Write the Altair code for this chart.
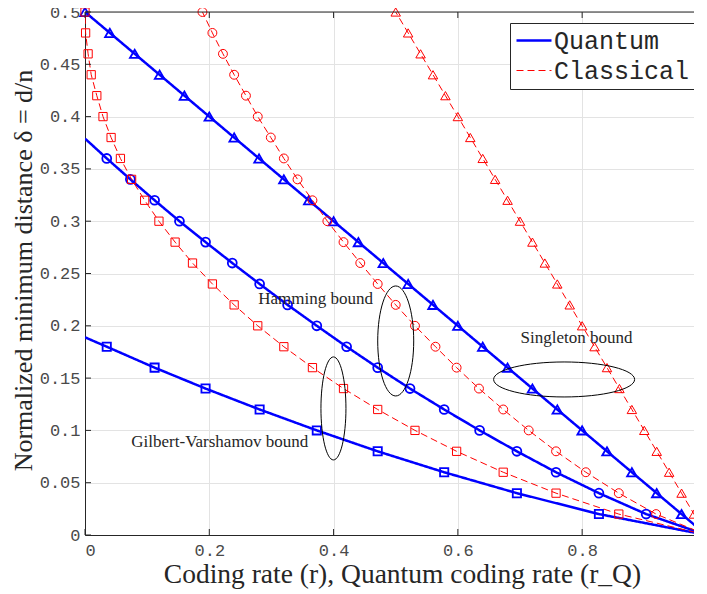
import altair as alt
import pandas as pd

# ---------------- data ----------------
DELTA = [0.02, 0.04, 0.06, 0.08, 0.10, 0.12, 0.14, 0.16, 0.18, 0.20, 0.22, 0.24, 0.26,
         0.28, 0.30, 0.32, 0.34, 0.36, 0.38, 0.40, 0.42, 0.44, 0.46, 0.48, 0.50]

R_CL_SINGLETON = [0.98, 0.96, 0.94, 0.92, 0.90, 0.88, 0.86, 0.84, 0.82, 0.80, 0.78, 0.76, 0.74,
                  0.72, 0.70, 0.68, 0.66, 0.64, 0.62, 0.60, 0.58, 0.56, 0.54, 0.52, 0.50]
R_CL_HAMMING = [0.919, 0.859, 0.806, 0.758, 0.714, 0.673, 0.634, 0.598, 0.564, 0.531, 0.500, 0.471, 0.443,
                0.416, 0.390, 0.366, 0.342, 0.320, 0.299, 0.278, 0.259, 0.240, 0.222, 0.205, 0.189]
R_CL_GV = [0.859, 0.758, 0.673, 0.598, 0.531, 0.471, 0.416, 0.366, 0.320, 0.278, 0.240, 0.205, 0.173,
           0.145, 0.119, 0.096, 0.075, 0.057, 0.042, 0.029, 0.019, 0.010, 0.005, 0.001, 0.000]

R_Q_SINGLETON = [0.96, 0.92, 0.88, 0.84, 0.80, 0.76, 0.72, 0.68, 0.64, 0.60, 0.56, 0.52, 0.48,
                 0.44, 0.40, 0.36, 0.32, 0.28, 0.24, 0.20, 0.16, 0.12, 0.08, 0.04, 0.00]
DELTA_Q_HAMMING = [0.02, 0.04, 0.06, 0.08, 0.10, 0.12, 0.14, 0.16, 0.18,
                   0.20, 0.22, 0.24, 0.26, 0.28, 0.30, 0.32, 0.34, 0.36]
R_Q_HAMMING = [0.903, 0.827, 0.758, 0.695, 0.635, 0.578, 0.523, 0.471, 0.421,
               0.373, 0.326, 0.281, 0.237, 0.194, 0.152, 0.112, 0.073, 0.035]
DELTA_Q_GV = [0.02, 0.04, 0.06, 0.08, 0.10, 0.12, 0.14, 0.16, 0.18]
R_Q_GV = [0.827, 0.695, 0.578, 0.471, 0.373, 0.281, 0.194, 0.112, 0.035]

# curve ends that carry no marker (r, delta)
Q_HAMMING_START = [0.0, 0.379]
Q_GV_START = [0.0, 0.189]
CURVE_END = [1.0, 0.0]

TYPES = ["Quantum", "Classical"]
BOUNDS = ["Singleton", "Hamming", "GV"]

X_TICKS = [0, 0.2, 0.4, 0.6, 0.8]
Y_TICKS = [0, 0.05, 0.1, 0.15, 0.2, 0.25, 0.3, 0.35, 0.4, 0.45, 0.5]

ANN_TEXT = ["Hamming bound", "Singleton bound", "Gilbert-Varshamov bound"]
ANN_R = [0.371, 0.791, 0.217]
ANN_D = [0.2206, 0.1833, 0.0844]

ELL_R = [0.3998, 0.500, 0.771]
ELL_D = [0.121, 0.1855, 0.1487]

X_TITLE = "Coding rate (r), Quantum coding rate (r_Q)"
Y_TITLE = "Normalized minimum distance δ = d/n"

# ---------------- styles ----------------
BLUE = "#0000ff"
RED = "#ff0000"
INK = "#262626"
SERIF = "Liberation Serif"
MONO = "Liberation Mono"
ELL_PX = [(25, 103), (36, 110), (141, 35)]  # ellipse width, height in px
W, H = 609, 523


def ellipse_path(w, h):
    m = float(max(w, h))
    a, b, k = w / m, h / m, 0.5523
    f = lambda v: f"{v:.4f}"
    p = (f"M{f(a)},0 C{f(a)},{f(k*b)} {f(k*a)},{f(b)} 0,{f(b)} "
         f"C{f(-k*a)},{f(b)} {f(-a)},{f(k*b)} {f(-a)},0 "
         f"C{f(-a)},{f(-k*b)} {f(-k*a)},{f(-b)} 0,{f(-b)} "
         f"C{f(k*a)},{f(-b)} {f(a)},{f(-k*b)} {f(a)},0 Z")
    return p, m * m


def frame(r, d, bound, typ):
    return pd.DataFrame({"r": r, "delta": d, "bound": bound, "type": typ})


mk_q = pd.concat([
    frame(R_Q_SINGLETON, DELTA, "Singleton", "Quantum"),
    frame(R_Q_HAMMING, DELTA_Q_HAMMING, "Hamming", "Quantum"),
    frame(R_Q_GV, DELTA_Q_GV, "GV", "Quantum"),
], ignore_index=True)
mk_c = pd.concat([
    frame(R_CL_SINGLETON, DELTA, "Singleton", "Classical"),
    frame(R_CL_HAMMING, DELTA, "Hamming", "Classical"),
    frame(R_CL_GV, DELTA, "GV", "Classical"),
], ignore_index=True)

ends_q = pd.DataFrame({
    "r": [Q_HAMMING_START[0], Q_GV_START[0], CURVE_END[0], CURVE_END[0], CURVE_END[0]],
    "delta": [Q_HAMMING_START[1], Q_GV_START[1], CURVE_END[1], CURVE_END[1], CURVE_END[1]],
    "bound": ["Hamming", "GV", "Singleton", "Hamming", "GV"],
    "type": "Quantum",
})
ends_c = pd.DataFrame({
    "r": [CURVE_END[0]] * 3, "delta": [CURVE_END[1]] * 3,
    "bound": ["Singleton", "Hamming", "GV"], "type": "Classical",
})
ln_q = pd.concat([mk_q, ends_q], ignore_index=True)
ln_c = pd.concat([mk_c, ends_c], ignore_index=True)

xs = alt.Scale(domain=[0, 0.98], nice=False, zero=False)
ys = alt.Scale(domain=[0, 0.5], nice=False, zero=False)

xax = alt.Axis(values=X_TICKS, format="~g", title=X_TITLE, grid=True, ticks=False, tickSize=0,
               labelPadding=7, titleX=317, titleY=47, titleAlign="center",
               titleBaseline="alphabetic", titleAnchor="start",
               titleFont=SERIF, titleFontSize=27.5, labelFont=MONO)
yax = alt.Axis(values=Y_TICKS, format="~g", title=Y_TITLE, grid=True, ticks=False, tickSize=0,
               labelPadding=5, titleX=-54, titleY=258, titleAngle=270, titleAlign="center",
               titleBaseline="alphabetic", titleAnchor="start",
               titleFont=SERIF, titleFontSize=26, labelFont=MONO)

leg = alt.Legend(title=None, orient="none", legendX=425, legendY=11, symbolType="stroke",
                 symbolSize=1225, labelFont=MONO, labelFontSize=25, clipHeight=25,
                 labelColor=INK, strokeColor=INK, fillColor="white", padding=5,
                 rowPadding=4, labelOffset=1, cornerRadius=0)

cs = alt.Scale(domain=TYPES, range=[BLUE, RED])
ds = alt.Scale(domain=TYPES, range=[[1, 0], [7, 4]])
ws = alt.Scale(domain=TYPES, range=[2.5, 1.0])


def line_layer(df):
    return alt.Chart(df).mark_line(clip=True).encode(
        x=alt.X("r:Q", scale=xs, axis=xax),
        y=alt.Y("delta:Q", scale=ys, axis=yax),
        detail="bound:N",
        order=alt.Order("delta:Q"),
        color=alt.Color("type:N", scale=cs, legend=leg),
        strokeDash=alt.StrokeDash("type:N", scale=ds, legend=leg),
        strokeWidth=alt.StrokeWidth("type:N", scale=ws, legend=leg),
    )


def point_layer(df, colour, sw):
    return alt.Chart(df).mark_point(filled=False, color=colour, strokeWidth=sw, opacity=1).encode(
        x=alt.X("r:Q", scale=xs, axis=xax),
        y=alt.Y("delta:Q", scale=ys, axis=yax),
        shape=alt.Shape("bound:N", scale=alt.Scale(domain=BOUNDS,
                        range=["triangle-up", "circle", "square"]), legend=None),
        size=alt.Size("bound:N", scale=alt.Scale(domain=BOUNDS, range=[90, 68, 42]), legend=None),
    )


ell_layers = []
for i in range(3):
    path, sz = ellipse_path(*ELL_PX[i])
    ell_layers.append(
        alt.Chart(pd.DataFrame({"r": [ELL_R[i]], "delta": [ELL_D[i]]}))
        .mark_point(shape=path, size=sz, filled=False, color="black", strokeWidth=1, opacity=1)
        .encode(x=alt.X("r:Q", scale=xs, axis=xax), y=alt.Y("delta:Q", scale=ys, axis=yax))
    )

ann = alt.Chart(pd.DataFrame({"label": ANN_TEXT, "r": ANN_R, "delta": ANN_D})).mark_text(
    font=SERIF, fontSize=17, color=INK, align="center", baseline="alphabetic"
).encode(x=alt.X("r:Q", scale=xs, axis=xax), y=alt.Y("delta:Q", scale=ys, axis=yax), text="label:N")

xt = pd.DataFrame({"t": X_TICKS})
yt = pd.DataFrame({"t": Y_TICKS})
tick_bottom = alt.Chart(xt).mark_rule(color=INK, strokeWidth=1, y2Offset=-6).encode(
    x=alt.X("t:Q", scale=xs, axis=xax), y=alt.datum(0), y2=alt.datum(0))
tick_top = alt.Chart(xt).mark_rule(color=INK, strokeWidth=1, y2Offset=6).encode(
    x=alt.X("t:Q", scale=xs, axis=xax), y=alt.datum(0.5), y2=alt.datum(0.5))
tick_left = alt.Chart(yt).mark_rule(color=INK, strokeWidth=1, x2Offset=6).encode(
    y=alt.Y("t:Q", scale=ys, axis=yax), x=alt.datum(0), x2=alt.datum(0))
border_top = alt.Chart(pd.DataFrame({"t": [0.5]})).mark_rule(color=INK, strokeWidth=1).encode(
    y=alt.Y("t:Q", scale=ys, axis=yax))

chart = alt.layer(
    line_layer(ln_q), point_layer(mk_q, BLUE, 1.8),
    line_layer(ln_c), point_layer(mk_c, RED, 1),
    *ell_layers, ann, tick_bottom, tick_top, tick_left, border_top,
).properties(
    width=W, height=H,
    padding={"left": 77, "top": 4, "right": 0, "bottom": 56},
    autosize=alt.AutoSizeParams(type="none"),
).configure_view(stroke=None).configure_axis(
    labelFont=MONO, labelFontSize=17, labelColor="#4a4a4a",
    titleFont=SERIF, titleFontSize=27, titleFontWeight="normal", titleColor=INK,
    gridColor="#e3e3e3", gridWidth=1, domainColor=INK, domainWidth=1,
)

chart.save("out.html", embed_options={"renderer": "svg", "actions": False})
